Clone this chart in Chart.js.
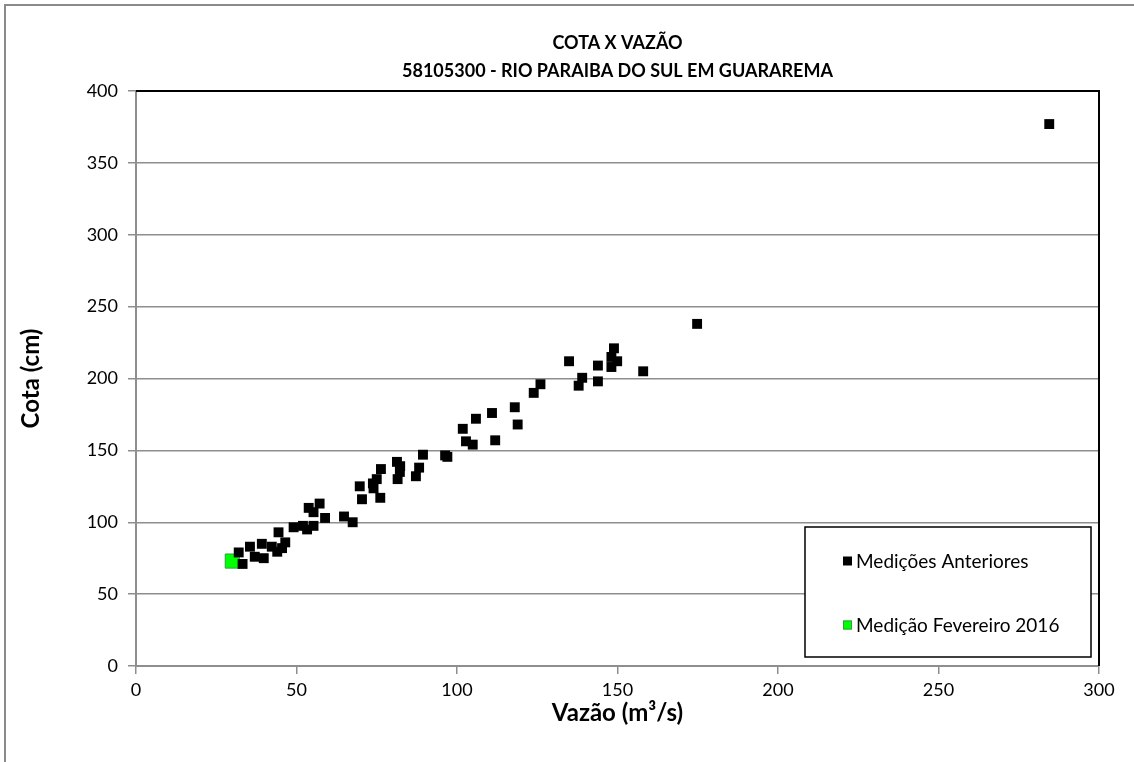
<!DOCTYPE html>
<html>
<head>
<meta charset="utf-8">
<script src="https://cdn.jsdelivr.net/npm/chart.js@4.4.1/dist/chart.umd.min.js"></script>
<style>
  html, body { margin: 0; padding: 0; background: #fff; }
  #wrap { width: 1134px; height: 762px; position: relative; }
</style>
</head>
<body>
<div id="wrap"><canvas id="cotaVazaoChart" width="1134" height="762"></canvas></div>
<script>
// Medições anteriores - vazão (m³/s) e cota (cm)
const vazaoAnteriores = [
    32, 33.2, 35.5, 37, 39.2, 39.8, 42.3, 44, 44.4, 45.5, 46.5, 49.1, 52, 53.3, 55.3,
    53.8, 55.3, 57.2, 58.9, 64.8, 67.5, 69.7, 70.4, 73.8, 74, 75, 76.3, 76.1, 81.3, 82.3,
    82.2, 81.5, 87.2, 88.2, 89.4, 96.3, 97, 101.8, 102.8, 104.9, 105.9, 110.9, 111.9, 118, 118.9,
    123.9, 126, 134.9, 137.9, 139, 143.9, 143.9, 148.1, 148.1, 148.9, 149.9, 158, 174.8, 284.5
];
const cotaAnteriores = [
    79, 71, 83, 76, 85, 75, 83, 79.5, 93, 82, 86, 96.5, 97.5, 95, 97.5,
    110, 107, 113, 103, 104, 100, 125, 116, 127, 123.6, 130, 137, 117, 142, 139,
    135, 130, 132, 138, 147, 146.5, 145.5, 165, 156.3, 154, 172, 176, 157, 180, 168,
    190, 196, 212, 195, 200.5, 209, 198, 208, 215, 221, 212, 205, 238, 377
];

// Medição de fevereiro de 2016
const vazaoFev2016 = [30];
const cotaFev2016 = [73];

// Eixos
const xTicks = [0, 50, 100, 150, 200, 250, 300];
const yTicks = [0, 50, 100, 150, 200, 250, 300, 350, 400];

const titleLines = ['COTA X VAZÃO', '58105300 - RIO PARAIBA DO SUL EM GUARAREMA'];
const fontFamily = 'Lato, "Open Sans", sans-serif';
const gridGray = '#8e8e8e';

function toPoints(xs, ys) {
    return xs.map((x, i) => ({ x: x, y: ys[i] }));
}

// Borda externa, títulos, moldura da área de plotagem e legenda
const excelLook = {
    id: 'excelLook',
    beforeDraw(chart) {
        const ctx = chart.ctx;
        ctx.save();
        ctx.strokeStyle = '#8a8a8a';
        ctx.lineWidth = 2;
        ctx.beginPath();
        ctx.moveTo(5, 762);
        ctx.lineTo(5, 5);
        ctx.lineTo(1134, 5);
        ctx.stroke();
        ctx.restore();
    },
    beforeDatasetsDraw(chart) {
        const { ctx, chartArea: a } = chart;
        ctx.save();
        ctx.strokeStyle = '#000';
        ctx.lineWidth = 2;
        ctx.beginPath();
        ctx.moveTo(a.left, a.top);
        ctx.lineTo(a.right, a.top);
        ctx.lineTo(a.right, a.bottom);
        ctx.stroke();
        ctx.restore();
    },
    afterDraw(chart) {
        const { ctx, chartArea: a } = chart;
        ctx.save();
        // títulos
        const cx = (a.left + a.right) / 2;
        ctx.fillStyle = '#000';
        ctx.textAlign = 'center';
        ctx.textBaseline = 'middle';
        ctx.font = 'bold 18px ' + fontFamily;
        ctx.fillText(titleLines[0], cx, 43);
        ctx.fillText(titleLines[1], cx, 71);

        // legenda
        const w = 286, h = 130;
        const lx = a.right - 8 - w;
        const ly = a.bottom - 9 - h;
        ctx.fillStyle = '#fff';
        ctx.fillRect(lx, ly, w, h);
        ctx.strokeStyle = '#000';
        ctx.lineWidth = 1.5;
        ctx.strokeRect(lx, ly, w, h);
        ctx.font = '19px ' + fontFamily;
        ctx.textAlign = 'left';
        chart.data.datasets.forEach((ds, i) => {
            const yy = ly + 34 + i * 64;
            const s = 9;
            ctx.fillStyle = ds.backgroundColor;
            ctx.fillRect(lx + 38, yy - s / 2, s, s);
            if (ds.borderColor !== ds.backgroundColor) {
                ctx.strokeStyle = ds.borderColor;
                ctx.lineWidth = 1;
                ctx.strokeRect(lx + 38.5, yy - s / 2 + 0.5, s - 1, s - 1);
            }
            ctx.fillStyle = '#000';
            ctx.fillText(ds.label, lx + 51, yy + 1);
        });
        ctx.restore();
    }
};

document.addEventListener('DOMContentLoaded', () => {
    const ctx = document.getElementById('cotaVazaoChart').getContext('2d');
    new Chart(ctx, {
        type: 'scatter',
        data: {
            datasets: [{
                label: 'Medições Anteriores',
                data: toPoints(vazaoAnteriores, cotaAnteriores),
                backgroundColor: '#000000',
                borderColor: '#000000',
                pointStyle: 'rect',
                pointRadius: 7,
                borderWidth: 0,
            }, {
                label: 'Medição Fevereiro 2016',
                data: toPoints(vazaoFev2016, cotaFev2016),
                backgroundColor: '#00ff00',
                borderColor: '#2f9e45',
                pointStyle: 'rect',
                pointRadius: 10,
                borderWidth: 1,
            }]
        },
        options: {
            responsive: false,
            animation: false,
            layout: { padding: { left: 0, top: 91, right: 35, bottom: 0 } },
            plugins: {
                legend: { display: false },
                title: { display: false },
                tooltip: { enabled: false }
            },
            scales: {
                x: {
                    type: 'linear',
                    min: 0,
                    max: 300,
                    afterBuildTicks: s => { s.ticks = xTicks.map(v => ({ value: v })); },
                    afterFit: s => { s.height = 96; },
                    grid: { drawOnChartArea: false, drawTicks: true, tickLength: 8, color: gridGray, lineWidth: 1.5 },
                    border: { color: gridGray, width: 2 },
                    ticks: { color: '#000', padding: 5, maxRotation: 0, font: { family: fontFamily, size: 18 } },
                    title: { display: true, text: 'Vazão (m³/s)', color: '#000', padding: { bottom: 34 }, font: { family: fontFamily, size: 24, weight: 'bold' } }
                },
                y: {
                    type: 'linear',
                    min: 0,
                    max: 400,
                    afterBuildTicks: s => { s.ticks = yTicks.map(v => ({ value: v })); },
                    afterFit: s => { s.width = 136; },
                    grid: { drawTicks: true, tickLength: 8, color: gridGray, lineWidth: 1.5 },
                    border: { color: gridGray, width: 2 },
                    ticks: { color: '#000', padding: 10, font: { family: fontFamily, size: 18 } },
                    title: { display: true, text: 'Cota (cm)', color: '#000', padding: { top: 17 }, font: { family: fontFamily, size: 24, weight: 'bold' } }
                }
            }
        },
        plugins: [excelLook]
    });
});
</script>
</body>
</html>
